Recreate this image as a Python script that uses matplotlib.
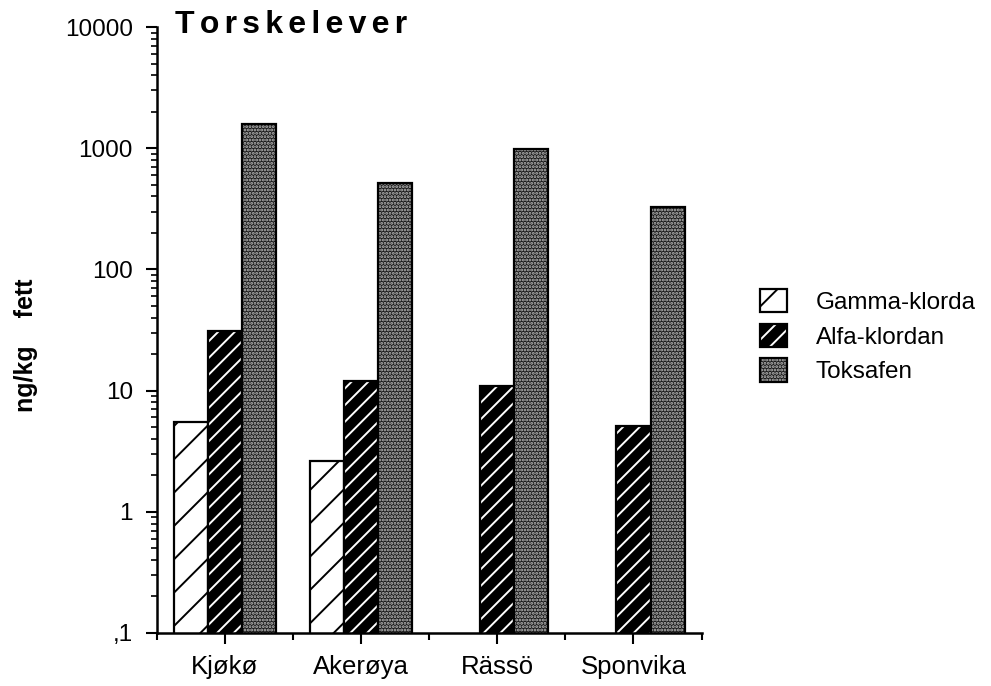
import numpy as np
import matplotlib
matplotlib.use("Agg")
import matplotlib.pyplot as plt
from matplotlib.patches import Patch
from matplotlib.ticker import FixedLocator, NullFormatter

plt.rcParams['font.family'] = ['Liberation Sans', 'DejaVu Sans']
plt.rcParams['hatch.linewidth'] = 1.4

# --- Data (ng/kg fett) ---
sites = ['Kjøkø', 'Akerøya', 'Rässö', 'Sponvika']
gamma = [5.5, 2.6, None, None]
alfa = [31, 12, 11, 5.1]
toksafen = [1580, 515, 980, 330]
series_names = ['Gamma-klorda', 'Alfa-klordan', 'Toksafen']

ytick_vals = [0.1, 1, 10, 100, 1000, 10000]
ytick_labels = [',1', '1', '10', '100', '1000', '10000']

fig = plt.figure(figsize=(9.91, 6.86), dpi=100)
ax = fig.add_axes([0.158, 0.0773, 0.55, 0.8833])

x = np.arange(len(sites))
w = 0.25
dots = '#bdbdbd'

# gamma: white with sparse black hatch
gx = [xi for xi, v in zip(x, gamma) if v is not None]
gv = [v for v in gamma if v is not None]
ax.bar(np.array(gx) - w, gv, w, color='white', edgecolor='black',
       hatch='/', linewidth=1.6)

# alfa: black with white hatch, then black outline
ax.bar(x, alfa, w, color='black', edgecolor='white', hatch='//', linewidth=0)
ax.bar(x, alfa, w, fill=False, edgecolor='black', linewidth=1.6)

# toksafen: dark with light dots, then black outline
ax.bar(x + w, toksafen, w, color='#1c1c1c', edgecolor=dots, hatch='.....', linewidth=0)
ax.bar(x + w, toksafen, w, fill=False, edgecolor='black', linewidth=1.6)

ax.set_yscale('log')
ax.set_ylim(0.1, 10000)
ax.set_xlim(-0.5, 3.5)

ax.yaxis.set_major_locator(FixedLocator(ytick_vals))
ax.set_yticklabels(ytick_labels)
ax.yaxis.set_minor_formatter(NullFormatter())
ax.tick_params(axis='y', which='major', length=8, width=1.5, pad=9, labelsize=17.5)
ax.tick_params(axis='y', which='minor', length=4, width=1.2)

ax.set_xticks(x)
ax.set_xticklabels(sites)
ax.xaxis.set_minor_locator(FixedLocator([-0.5, 0.5, 1.5, 2.5, 3.5]))
ax.tick_params(axis='x', which='major', length=8, width=1.5, pad=8, labelsize=18.5)
ax.tick_params(axis='x', which='minor', length=5, width=1.5)

for s in ['top', 'right']:
    ax.spines[s].set_visible(False)
for s in ['left', 'bottom']:
    ax.spines[s].set_linewidth(1.8)

# title with wide letter spacing
fig.text(0.177, 0.963, '\u200a\u200a'.join('Torskelever'), fontsize=23,
         fontweight='bold', va='center', ha='left')

# y label
fig.text(0.026, 0.497, 'ng/kg    fett', rotation=90, fontsize=18,
         fontweight='bold', va='center', ha='center')

# legend
handles = [
    Patch(facecolor='white', edgecolor='black', hatch='/', linewidth=1.6),
    (Patch(facecolor='black', edgecolor='white', hatch='//', linewidth=0),
     Patch(fill=False, edgecolor='black', linewidth=1.6)),
    (Patch(facecolor='#1c1c1c', edgecolor=dots, hatch='.....', linewidth=0),
     Patch(fill=False, edgecolor='black', linewidth=1.6)),
]
fig.legend(handles, series_names, loc='center left', bbox_to_anchor=(0.767, 0.51),
           frameon=False, fontsize=17.5, handlelength=1.1, handleheight=1.1,
           handletextpad=1.2, labelspacing=0.4, borderpad=0, borderaxespad=0)

fig.savefig('out.png', dpi=100)
